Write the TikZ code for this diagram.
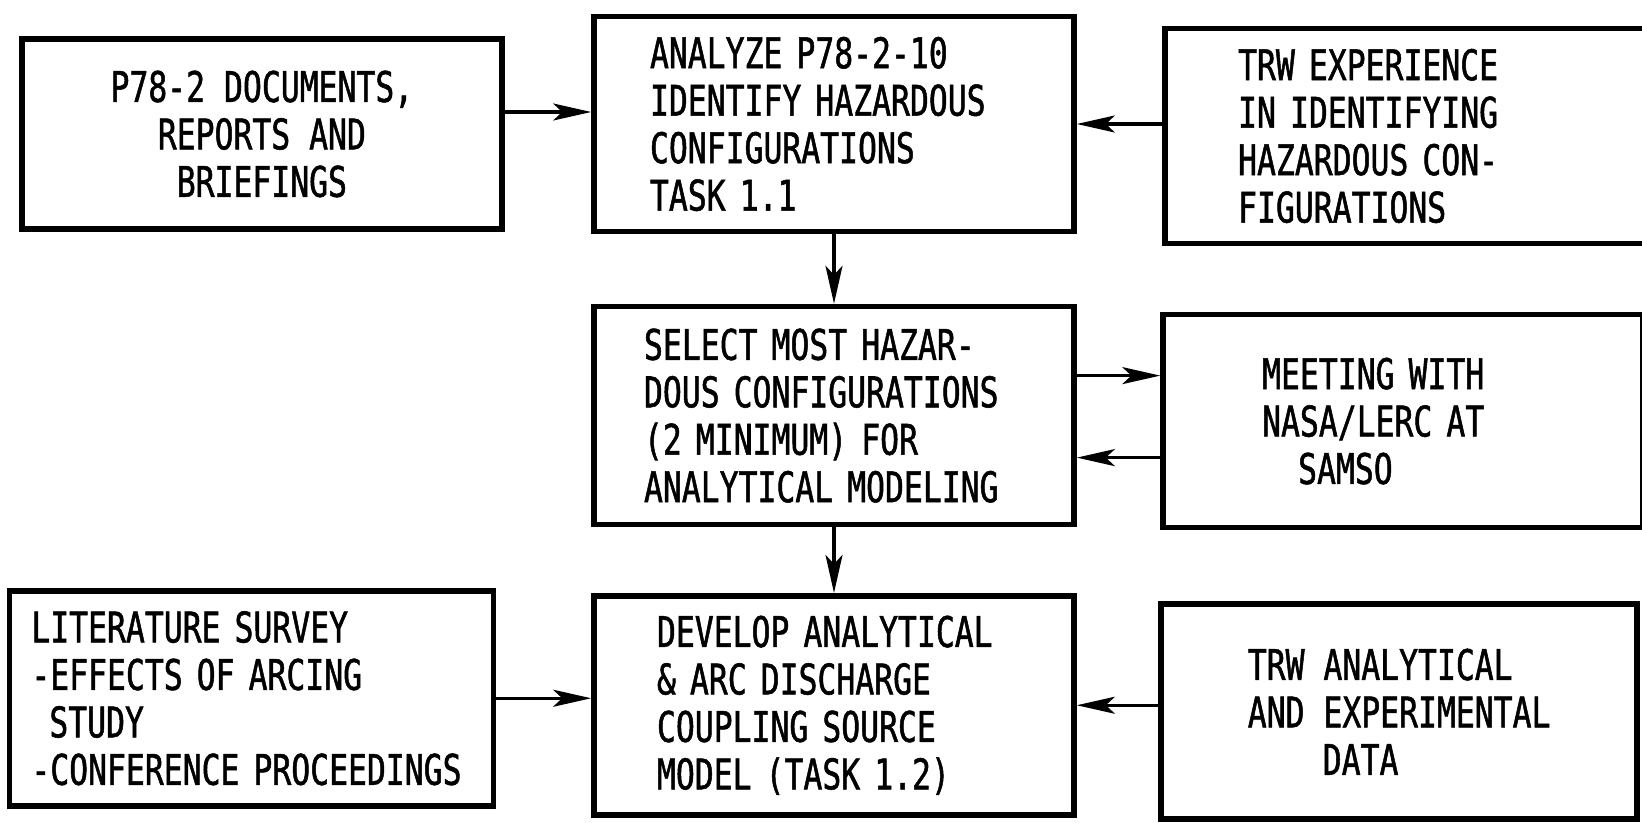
\documentclass[tikz,border=0pt]{standalone}
\usepackage{fontspec}
\newfontfamily\scanfont[FakeStretch=0.745, FakeBold=1.2]{DejaVu Sans Mono}
\usetikzlibrary{arrows.meta, positioning}

\begin{document}
\begin{tikzpicture}[
    node distance=0.9cm,
    block/.style={rectangle, draw, line width=1.6pt, minimum width=4.8cm, minimum height=2.15cm, align=left, font=\scanfont\fontsize{12}{13.5}\selectfont},
    arrow/.style={-{Stealth[length=3.8mm, width=1.7mm, inset=0.9mm]}, line width=0.9pt}
]
    \useasboundingbox (0,0) rectangle (16.42,-8.23);

    % Middle column
    \node[block, text width=3.68cm, inner xsep=0.56cm] (analyze) at (8.34,-1.24) {ANALYZE P78-2-10\\IDENTIFY HAZARDOUS\\CONFIGURATIONS\\TASK 1.1};
    \node[block, below=0.695cm of analyze, minimum height=2.18cm, text width=3.8cm, inner xsep=0.5cm] (select) {SELECT MOST HAZAR-\\DOUS CONFIGURATIONS\\(2 MINIMUM) FOR\\ANALYTICAL MODELING};
    \node[block, below=0.655cm of select, minimum height=2.19cm, text width=3.54cm, inner xsep=0.63cm] (develop) {DEVELOP ANALYTICAL\\\& ARC DISCHARGE\\COUPLING SOURCE\\MODEL (TASK 1.2)};

    % Inputs on the left
    \node[block, left=0.865cm of analyze, yshift=-1mm, minimum height=1.9cm, align=center] (docs) {P78-2 DOCUMENTS,\\REPORTS AND\\BRIEFINGS};
    \node[block, left=0.95cm of develop, yshift=0.7mm, text width=4.4cm, inner xsep=0.22cm] (survey) {LITERATURE SURVEY\\-EFFECTS OF ARCING\\\hspace*{1.8mm}STUDY\\-CONFERENCE PROCEEDINGS};

    % Inputs on the right
    \node[block, right=0.855cm of analyze, yshift=-1.2mm, text width=3.34cm, inner xsep=0.71cm] (trwexp) {TRW EXPERIENCE\\IN IDENTIFYING\\HAZARDOUS CON-\\FIGURATIONS};
    \node[block, right=0.835cm of select, yshift=-0.55mm, minimum height=2.13cm, text width=2.82cm, inner xsep=0.97cm] (meeting) {MEETING WITH\\NASA/LERC AT\\\hspace*{3.6mm}SAMSO};
    \node[block, right=0.815cm of develop, yshift=-0.65mm, minimum width=4.76cm] (trwdata) {TRW ANALYTICAL\\AND EXPERIMENTAL\\\hspace*{7.5mm}DATA};

    % Arrows
    \coordinate (docsout) at ([yshift=2.2mm]docs.east);
    \coordinate (selout) at ([yshift=4mm]select.east);
    \coordinate (selin) at ([yshift=-4.2mm]select.east);
    \draw[arrow] (docsout) -- (docsout -| analyze.west);
    \draw[arrow] (trwexp.west |- analyze.east) -- (analyze.east);
    \draw[arrow] (analyze.south) -- (select.north);
    \draw[arrow] (selout) -- (selout -| meeting.west);
    \draw[arrow] (selin -| meeting.west) -- (selin);
    \draw[arrow] (select.south) -- (develop.north);
    \draw[arrow] (survey.east) -- (survey.east -| develop.west);
    \draw[arrow] (trwdata.west |- develop.east) -- (develop.east);
\end{tikzpicture}
\end{document}
